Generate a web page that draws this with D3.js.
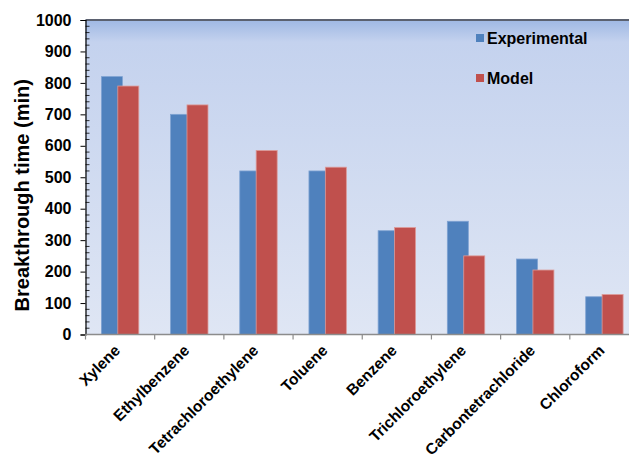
<!DOCTYPE html>
<html>
<head>
<meta charset="utf-8">
<script src="https://cdn.jsdelivr.net/npm/d3@7"></script>
<style>
  body { margin: 0; background: #fff; }
  svg { display: block; font-family: "Liberation Sans", Arial, sans-serif; }
  .ylab text { font-size: 16px; font-weight: bold; fill: #000; }
  .xlab { font-size: 15.5px; font-weight: bold; fill: #000; }
</style>
</head>
<body>
<div class="container"></div>
<script>
const categories = ["Xylene", "Ethylbenzene", "Tetrachloroethylene", "Toluene",
  "Benzene", "Trichloroethylene", "Carbontetrachloride", "Chloroform"];
const experimental = [820, 700, 520, 520, 330, 360, 240, 120];
const model = [790, 730, 585, 532, 340, 250, 205, 127];
const seriesNames = ["Experimental", "Model"];
const yTicks = [0, 100, 200, 300, 400, 500, 600, 700, 800, 900, 1000];

const width = 629;
const height = 462;
const plot = { left: 85.5, top: 20, right: 639, bottom: 334.5 };
const colors = { Experimental: "#4f81bd", Model: "#c0504d" };
const strokes = { Experimental: "#7ea2d2", Model: "#dc9a98" };

const svg = d3.select(".container")
  .append("svg")
  .attr("width", width)
  .attr("height", height);

// plot area background gradient
const grad = svg.append("defs")
  .append("linearGradient")
  .attr("id", "bg")
  .attr("x1", "0%").attr("y1", "0%")
  .attr("x2", "0%").attr("y2", "100%");
grad.append("stop").attr("offset", "0%").attr("stop-color", "#9fb8e4");
grad.append("stop").attr("offset", "7%").attr("stop-color", "#c4d2ee");
grad.append("stop").attr("offset", "100%").attr("stop-color", "#dfe6f4");

svg.append("rect")
  .attr("x", plot.left)
  .attr("y", plot.top)
  .attr("width", plot.right - plot.left)
  .attr("height", plot.bottom - plot.top)
  .attr("fill", "url(#bg)");

const x = d3.scaleBand()
  .domain(categories)
  .range([plot.left, plot.right])
  .paddingInner(0)
  .paddingOuter(0);

const y = d3.scaleLinear()
  .domain([0, 1000])
  .range([plot.bottom, plot.top]);

const barW = 21;
const groupW = 37.4;

const data = categories.map((c, i) => ({ cat: c, Experimental: experimental[i], Model: model[i] }));

seriesNames.forEach((s, si) => {
  svg.append("g")
    .selectAll("rect")
    .data(data)
    .join("rect")
    .attr("x", d => {
      const cx = x(d.cat) + x.bandwidth() / 2;
      return si === 0 ? cx - groupW / 2 : cx + groupW / 2 - barW;
    })
    .attr("y", d => y(d[s]))
    .attr("width", barW)
    .attr("height", d => y(0) - y(d[s]))
    .attr("fill", colors[s])
    .attr("stroke", strokes[s])
    .attr("stroke-width", 0.8);
});

// top border
svg.append("line")
  .attr("x1", plot.left).attr("x2", plot.right)
  .attr("y1", plot.top).attr("y2", plot.top)
  .attr("stroke", "#5b6170")
  .attr("stroke-width", 1.8);

// y axis
const yAxis = svg.append("g")
  .attr("class", "ylab")
  .attr("transform", `translate(${plot.left},0)`)
  .call(d3.axisLeft(y).tickValues(yTicks).tickFormat(d3.format("d")).tickSize(5).tickPadding(9));
yAxis.select(".domain").attr("stroke", "#000").attr("stroke-width", 1.2);
yAxis.selectAll(".tick line").attr("stroke", "#000");

// minor ticks inside
const minor = d3.range(0, 1001, 20).filter(v => v % 100 !== 0);
svg.append("g")
  .selectAll("line")
  .data(minor)
  .join("line")
  .attr("x1", plot.left).attr("x2", plot.left + 4)
  .attr("y1", d => y(d)).attr("y2", d => y(d))
  .attr("stroke", "#000")
  .attr("stroke-width", 0.8);

// x axis
const xAxis = svg.append("g")
  .attr("transform", `translate(0,${plot.bottom})`);
xAxis.append("line")
  .attr("x1", plot.left).attr("x2", plot.right)
  .attr("stroke", "#8c8c8c").attr("stroke-width", 1.5);
xAxis.selectAll(".xtick")
  .data(categories.concat(["end"]))
  .join("line")
  .attr("x1", (d, i) => plot.left + i * x.bandwidth())
  .attr("x2", (d, i) => plot.left + i * x.bandwidth())
  .attr("y1", 0).attr("y2", 5)
  .attr("stroke", "#8c8c8c").attr("stroke-width", 1.2);

svg.append("g")
  .selectAll("text")
  .data(categories)
  .join("text")
  .attr("class", "xlab")
  .attr("text-anchor", "end")
  .attr("transform", d => `translate(${x(d) + x.bandwidth() / 2 + 1},${plot.bottom + 17}) rotate(-45)`)
  .text(d => d);

// y title
svg.append("text")
  .attr("transform", `translate(29,${(plot.top + plot.bottom) / 2 + 18}) rotate(-90)`)
  .attr("text-anchor", "middle")
  .attr("font-size", 20)
  .attr("font-weight", "bold")
  .text("Breakthrough time (min)");

// legend
const legend = svg.append("g");
seriesNames.forEach((s, i) => {
  legend.append("rect")
    .attr("x", 476).attr("y", 34 + i * 40)
    .attr("width", 8).attr("height", 8)
    .attr("fill", colors[s]);
  legend.append("text")
    .attr("x", 487).attr("y", 44 + i * 40)
    .attr("font-size", 16)
    .attr("font-weight", "bold")
    .text(s);
});
</script>
</body>
</html>
